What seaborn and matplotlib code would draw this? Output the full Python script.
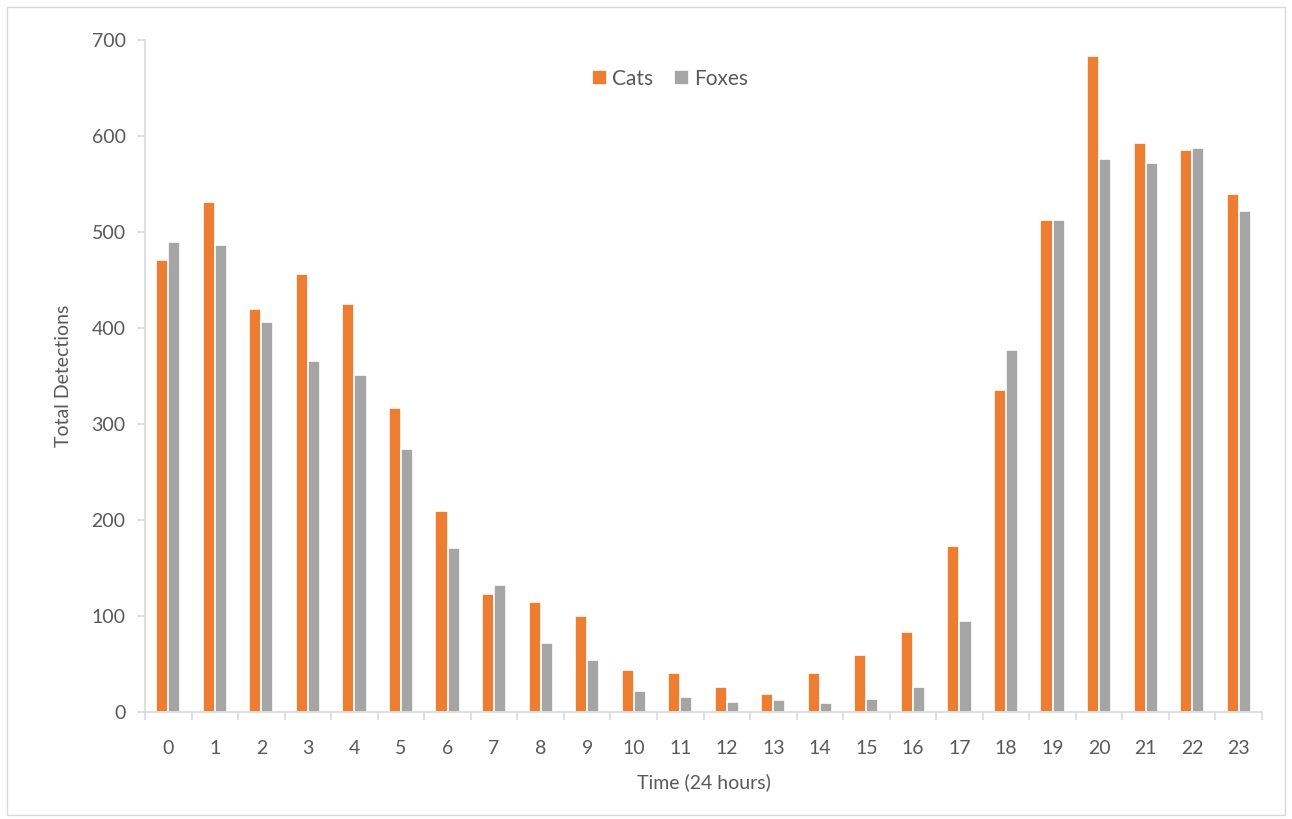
import pandas as pd
import numpy as np
import seaborn as sns
import matplotlib.pyplot as plt
from matplotlib.patches import Rectangle

# Detections per hour
hours = list(range(24))
cats = [471, 531, 420, 456, 425, 317, 209, 123, 115, 100, 44, 41,
        26, 19, 41, 59, 83, 173, 335, 513, 683, 593, 585, 540]
foxes = [490, 486, 406, 366, 351, 274, 171, 132, 72, 54, 22, 16,
         10, 13, 9, 14, 26, 95, 377, 513, 576, 572, 587, 522]

df = pd.DataFrame({"Hour": hours * 2,
                   "Detections": cats + foxes,
                   "Species": ["Cats"] * 24 + ["Foxes"] * 24})

sns.set_style("white")
plt.rcParams["font.family"] = ["Lato", "DejaVu Sans"]

text_col = "#595959"
axis_col = "#D9D9D9"

fig = plt.figure(figsize=(12.92, 8.19), dpi=100)
ax = fig.add_axes([145 / 1292, 1 - 712 / 819, (1262 - 145) / 1292, (712 - 40) / 819])

sns.barplot(data=df, x="Hour", y="Detections", hue="Species",
            palette={"Cats": "#ED7D31", "Foxes": "#A5A5A5"}, saturation=1,
            width=0.52, edgecolor="white", linewidth=1.2, ax=ax)

ax.set_xlim(-0.5, 23.5)
ax.set_ylim(0, 700)
ax.set_yticks(range(0, 701, 100))

# Excel-style tick marks between categories
ax.set_xticks(hours)
ax.set_xticks(np.arange(-0.5, 24, 1), minor=True)
ax.tick_params(axis="x", which="major", length=0, pad=20, labelsize=14, colors=text_col)
ax.tick_params(axis="x", which="minor", length=6, width=1.2, color=axis_col, direction="out")
ax.tick_params(axis="y", which="major", length=6, width=1.2, color=axis_col,
               direction="out", labelsize=14, labelcolor=text_col, pad=8)
ax.xaxis.set_ticks_position("bottom")
ax.yaxis.set_ticks_position("left")

for side in ["top", "right"]:
    ax.spines[side].set_visible(False)
for side in ["left", "bottom"]:
    ax.spines[side].set_color(axis_col)
    ax.spines[side].set_linewidth(1.2)

ax.set_xlabel("Time (24 hours)", fontsize=14, color=text_col, labelpad=12)
ax.set_ylabel("Total Detections", fontsize=14, color=text_col, labelpad=14)

leg = ax.legend(loc="upper center", bbox_to_anchor=(0.47, 0.985), ncol=2, frameon=False,
                fontsize=15, handlelength=0.7, handleheight=0.75, columnspacing=1.0,
                handletextpad=0.25)
for t in leg.get_texts():
    t.set_color(text_col)

# light border around the chart area
fig.patches.append(Rectangle((7 / 1292, 4 / 819), 1278 / 1292, 808 / 819,
                             transform=fig.transFigure, fill=False,
                             edgecolor="#D9D9D9", linewidth=1))

plt.savefig("out.png", dpi=100)
